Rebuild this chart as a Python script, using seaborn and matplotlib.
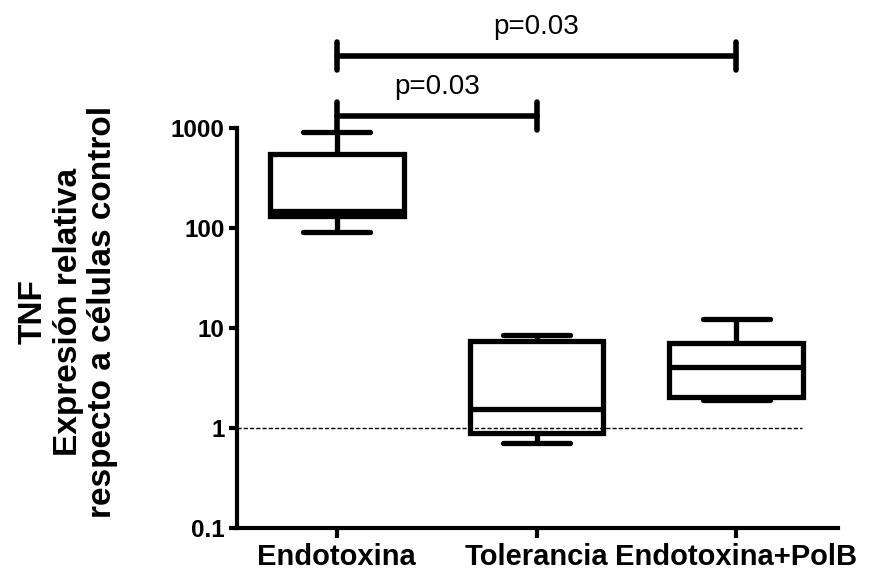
import seaborn as sns
import matplotlib.pyplot as plt
import numpy as np
import pandas as pd

# grupos y valores (min, Q1, mediana, Q3, max)
grupos = ["Endotoxina", "Tolerancia", "Endotoxina+PolB"]
endotoxina = [91, 131, 148, 546, 906]
tolerancia = [0.70, 0.90, 1.56, 7.4, 8.5]
endotoxina_polb = [1.9, 2.03, 4.07, 7.0, 12.4]

y_ticks = [0.1, 1, 10, 100, 1000]
y_ticklabels = ["0.1", "1", "10", "100", "1000"]
comparaciones = [(0, 1, "p=0.03"), (0, 2, "p=0.03")]

df = pd.DataFrame({
    "grupo": np.repeat(grupos, 5),
    "valor": endotoxina + tolerancia + endotoxina_polb,
})

sns.set_style("ticks")
plt.rcParams['font.family'] = ['Liberation Sans', 'DejaVu Sans']
plt.rcParams['text.color'] = 'black'
plt.rcParams['xtick.color'] = 'black'
plt.rcParams['ytick.color'] = 'black'

fig = plt.figure(figsize=(8.83, 5.73), dpi=100)
ax = fig.add_axes([237 / 883, 1 - 528 / 573, 601 / 883, 400 / 573])
ax.set_yscale("log")

sns.boxplot(data=df, x="grupo", y="valor", order=grupos, ax=ax,
            width=0.67, whis=(0, 100), color="white", linecolor="black",
            linewidth=3.8, showfliers=False, saturation=1,
            capprops=dict(solid_capstyle="round"))

# linea de referencia en 1
ax.hlines(1, -0.5, 2.33, colors="black", linestyles=(0, (3, 1.5)),
          linewidth=1, zorder=5)

ax.set_xlim(-0.5, 2.51)
ax.set_ylim(0.1, 1000)
ax.set_yticks(y_ticks)
ax.set_yticklabels(y_ticklabels)
ax.yaxis.set_minor_locator(plt.NullLocator())
ax.set_xlabel("")
ax.set_ylabel("")

for lbl in ax.get_xticklabels():
    lbl.set_fontsize(21)
    lbl.set_fontweight("bold")
    lbl.set_color("black")
for lbl in ax.get_yticklabels():
    lbl.set_fontsize(17.5)
    lbl.set_fontweight("bold")
    lbl.set_color("black")

ax.tick_params(axis="y", length=6, width=3, pad=3, colors="black")
ax.tick_params(axis="x", length=7, width=3, pad=4, colors="black")
sns.despine(ax=ax)
for s in ["left", "bottom"]:
    ax.spines[s].set_linewidth(3)
    ax.spines[s].set_color("black")

fig.text(68 / 883, 1 - 312 / 573,
         "TNF\nExpresión relativa\nrespecto a células control",
         rotation=90, ha="center", va="center", multialignment="center",
         fontsize=24, fontweight="bold", linespacing=1.15, color="black")

# barras de significancia
trans = ax.get_xaxis_transform()
alturas = [1.03, 1.18]
for (a, b, txt), h in zip(comparaciones, alturas):
    ax.plot([a, b], [h, h], color="black", lw=4, transform=trans,
            clip_on=False, solid_capstyle="round")
    for xx in (a, b):
        ax.plot([xx, xx], [h - 0.036, h + 0.036], color="black", lw=4,
                transform=trans, clip_on=False, solid_capstyle="round")
    ax.text((a + b) / 2, h + 0.055, txt, transform=trans, ha="center",
            va="baseline", fontsize=20, color="black")

fig.savefig("out.png", dpi=100)
